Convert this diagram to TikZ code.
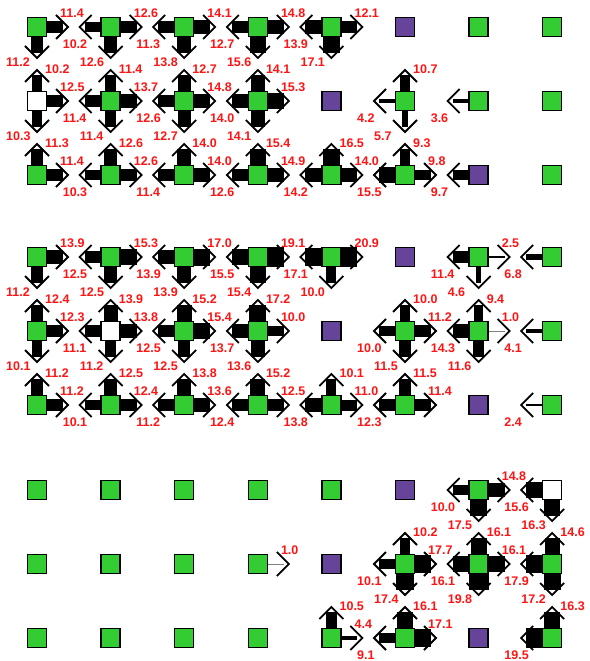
\documentclass[tikz,border=0pt]{standalone}
\usepackage{fontspec}
\setmainfont{Liberation Sans}
\usepackage{tikz}
\usetikzlibrary{calc}

\definecolor{cellgreen}{RGB}{51,204,51}
\definecolor{cellpurple}{RGB}{102,68,153}
\definecolor{qred}{RGB}{255,20,20}

% grid/row/column/direction (0 right, 1 up, 2 left, 3 down)/value
\def\qlist{
  0/0/0/0/11.4, 0/0/0/3/11.2,
  0/0/1/2/10.2, 0/0/1/0/12.6, 0/0/1/3/12.6,
  0/0/2/2/11.3, 0/0/2/0/14.1, 0/0/2/3/13.8,
  0/0/3/2/12.7, 0/0/3/0/14.8, 0/0/3/3/15.6,
  0/0/4/2/13.9, 0/0/4/0/12.1, 0/0/4/3/17.1,
  0/1/0/1/10.2, 0/1/0/0/12.5, 0/1/0/3/10.3,
  0/1/1/1/11.4, 0/1/1/2/11.4, 0/1/1/0/13.7, 0/1/1/3/11.4,
  0/1/2/1/12.7, 0/1/2/2/12.6, 0/1/2/0/14.8, 0/1/2/3/12.7,
  0/1/3/1/14.1, 0/1/3/2/14.0, 0/1/3/0/15.3, 0/1/3/3/14.1,
  0/1/5/1/10.7, 0/1/5/2/4.2, 0/1/5/3/5.7,
  0/1/6/2/3.6,
  0/2/0/1/11.3, 0/2/0/0/11.4,
  0/2/1/1/12.6, 0/2/1/2/10.3, 0/2/1/0/12.6,
  0/2/2/1/14.0, 0/2/2/2/11.4, 0/2/2/0/14.0,
  0/2/3/1/15.4, 0/2/3/2/12.6, 0/2/3/0/14.9,
  0/2/4/1/16.5, 0/2/4/2/14.2, 0/2/4/0/14.0,
  0/2/5/1/9.3, 0/2/5/2/15.5, 0/2/5/0/9.8,
  0/2/6/2/9.7,
  1/0/0/0/13.9, 1/0/0/3/11.2,
  1/0/1/2/12.5, 1/0/1/0/15.3, 1/0/1/3/12.5,
  1/0/2/2/13.9, 1/0/2/0/17.0, 1/0/2/3/13.9,
  1/0/3/2/15.5, 1/0/3/0/19.1, 1/0/3/3/15.4,
  1/0/4/2/17.1, 1/0/4/0/20.9, 1/0/4/3/10.0,
  1/0/6/2/11.4, 1/0/6/0/2.5, 1/0/6/3/4.6,
  1/0/7/2/6.8,
  1/1/0/1/12.4, 1/1/0/0/12.3, 1/1/0/3/10.1,
  1/1/1/1/13.9, 1/1/1/2/11.1, 1/1/1/0/13.8, 1/1/1/3/11.2,
  1/1/2/1/15.2, 1/1/2/2/12.5, 1/1/2/0/15.4, 1/1/2/3/12.5,
  1/1/3/1/17.2, 1/1/3/2/13.7, 1/1/3/0/10.0, 1/1/3/3/13.6,
  1/1/5/1/10.0, 1/1/5/2/10.0, 1/1/5/0/11.2, 1/1/5/3/11.5,
  1/1/6/1/9.4, 1/1/6/2/14.3, 1/1/6/0/1.0, 1/1/6/3/11.6,
  1/1/7/2/4.1,
  1/2/0/1/11.2, 1/2/0/0/11.2,
  1/2/1/1/12.5, 1/2/1/2/10.1, 1/2/1/0/12.4,
  1/2/2/1/13.8, 1/2/2/2/11.2, 1/2/2/0/13.6,
  1/2/3/1/15.2, 1/2/3/2/12.4, 1/2/3/0/12.5,
  1/2/4/1/10.1, 1/2/4/2/13.8, 1/2/4/0/11.0,
  1/2/5/1/11.5, 1/2/5/2/12.3, 1/2/5/0/11.4,
  1/2/7/2/2.4,
  2/0/6/2/10.0, 2/0/6/0/14.8, 2/0/6/3/17.5,
  2/0/7/2/15.6, 2/0/7/3/16.3,
  2/1/3/0/1.0,
  2/1/5/1/10.2, 2/1/5/2/10.1, 2/1/5/0/17.7, 2/1/5/3/17.4,
  2/1/6/1/16.1, 2/1/6/2/16.1, 2/1/6/0/16.1, 2/1/6/3/19.8,
  2/1/7/1/14.6, 2/1/7/2/17.9, 2/1/7/3/17.2,
  2/2/4/1/10.5, 2/2/4/0/4.4,
  2/2/5/1/16.1, 2/2/5/2/9.1, 2/2/5/0/17.1,
  2/2/7/1/16.3, 2/2/7/2/19.5}

\begin{document}
\begin{tikzpicture}[x=1pt, y=-1pt,
    cell/.style={draw=black, line width=1.5pt, minimum size=19pt, inner sep=0pt},
    head/.style={line width=1.8pt, line join=miter},
    qlabel/.style={text=qred, font=\fontsize{12.5}{14}\selectfont\bfseries, inner sep=0pt, anchor=west}]
    \useasboundingbox (0,0) rectangle (589,661);

    % Draw the three grids of cells
    \foreach \g in {0,1,2}
      \foreach \r in {0,1,2}
        \foreach \c in {0,...,7} {
          \pgfmathsetmacro\py{{27,257,490}[\g]+74*\r}
          \pgfmathtruncatemacro\pc{{5,4,6}[\r]}
          \pgfmathtruncatemacro\wc{{8,9,7}[\g]}
          \def\fillc{cellgreen}
          \ifnum\c=\pc \def\fillc{cellpurple}\fi
          \ifnum\numexpr8*\r+\c\relax=\wc \def\fillc{white}\fi
          \node[cell, fill=\fillc] (s\g\r\c) at ({37+73.6*\c},\py) {};
        }

    % Draw the arrows
    \foreach \g/\r/\c/\d/\v in \qlist {
      \pgfmathtruncatemacro\sh{\v<2 ? 50 : 100}
      \begin{scope}[shift={(s\g\r\c.center)}, rotate=90*\d]
        \draw[black!\sh, line width=\v pt] (10,0) -- (26,0);
        \draw[head] (19,-12) -- (31,0) -- (19,12);
      \end{scope}
    }

    % Values next to the arrow tips
    \foreach \g/\r/\c/\d/\v in \qlist {
      \pgfmathsetmacro\lx{{23,8,-48,-31}[\d]}
      \pgfmathsetmacro\ly{{-14,-32,17,35}[\d]}
      \node[qlabel] (l\g\r\c\d) at ($(s\g\r\c.center)+(\lx,\ly)$) {\v};
    }
\end{tikzpicture}
\end{document}
